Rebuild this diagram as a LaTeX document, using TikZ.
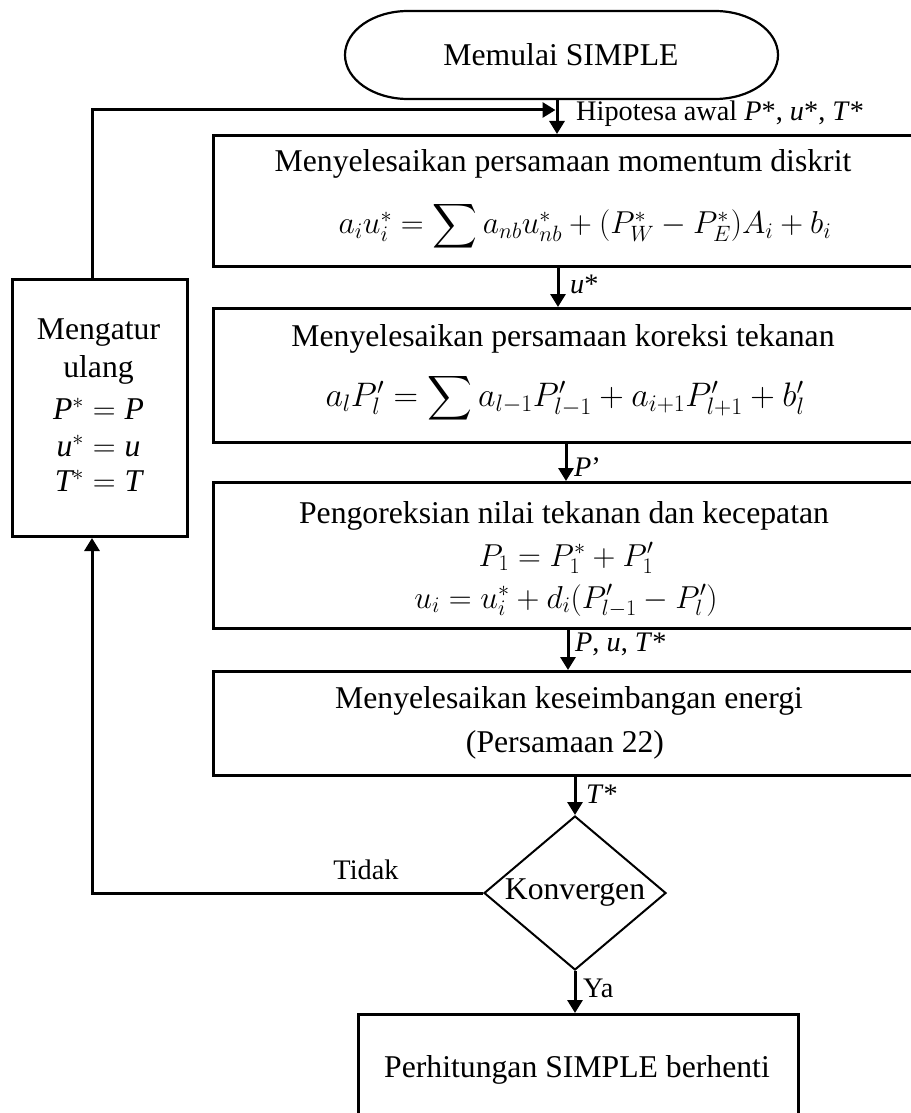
\RequirePackage{fix-cm}
\documentclass[tikz,border=0pt]{standalone}
\usepackage{exscale}
\usepackage{graphicx}
\usepackage{fontspec}
\setmainfont{Liberation Serif}
\usetikzlibrary{arrows.meta,shapes.geometric}
\newcommand{\bigsum}{\mathop{\vcenter{\hbox{\scalebox{1.25}{$\displaystyle\sum$}}}}\nolimits}
\begin{document}
\begin{tikzpicture}[x=1pt,y=1pt,
  box/.style={draw, line width=3pt, rectangle, inner sep=0pt, anchor=north west},
  txt/.style={font=\fontsize{31.7}{38}\selectfont, inner sep=0pt, align=center},
  eqn/.style={font=\fontsize{31.7}{38}\selectfont, inner sep=0pt},
  lab/.style={font=\fontsize{28.3}{34}\selectfont, inner sep=0pt, anchor=west},
  arr/.style={line width=3pt, -{Triangle[length=13pt,width=15pt]}}
]
\useasboundingbox (0,0) rectangle (910,-1113);
\fill[white] (0,0) rectangle (910,-1113);

% start terminal
\node[txt] (term) at (561,-55) {Memulai SIMPLE};
\draw[line width=2.2pt] (408,-11) -- (715,-11)
  arc[start angle=90,end angle=-90,x radius=63,y radius=44]
  -- (408,-99) arc[start angle=270,end angle=90,x radius=63,y radius=44] -- cycle;
\coordinate (termb) at (557,-99);

% main boxes
\node[box, minimum width=702pt, minimum height=131pt] (b1) at (212,-134) {};
\node[box, minimum width=702pt, minimum height=134pt] (b2) at (212,-307) {};
\node[box, minimum width=702pt, minimum height=146pt] (b3) at (212,-481) {};
\node[box, minimum width=702pt, minimum height=104pt] (b4) at (212,-670) {};
\node[box, minimum width=175pt, minimum height=257pt] (mg) at (11,-278) {};
\node[box, minimum width=440pt, minimum height=140pt] (fin) at (357,-1013) {};

% box texts
\node[txt] (t1a) at (563,-164) {Menyelesaikan persamaan momentum diskrit};
\node[eqn] (t1b) at (585,-226) {$a_i u_i^{*} = \bigsum a_{nb} u_{nb}^{*} + (P_W^{*} - P_E^{*})A_i + b_i$};
\node[txt] (t2a) at (563,-339) {Menyelesaikan persamaan koreksi tekanan};
\node[eqn, font=\fontsize{34}{40}\selectfont] (t2b) at (565,-398) {$a_l P_l' = \bigsum a_{l-1} P_{l-1}' + a_{i+1} P_{l+1}' + b_l'$};
\node[txt] (t3a) at (564,-516) {Pengoreksian nilai tekanan dan kecepatan};
\node[eqn] (t3b) at (566,-558) {$P_1 = P_1^{*} + P_1'$};
\node[eqn] (t3c) at (566,-601) {$u_i = u_i^{*} + d_i(P_{l-1}' - P_l')$};
\node[txt] (t4a) at (569,-701) {Menyelesaikan keseimbangan energi};
\node[txt] (t4b) at (565,-745) {(Persamaan 22)};
\node[txt] (mg1) at (98.5,-333) {Mengatur};
\node[txt] (mg2) at (98.5,-370) {ulang};
\node[txt] (mg3) at (98.5,-409) {$\mathit{P}^{*} = \mathit{P}$};
\node[txt] (mg4) at (98.5,-446) {$\mathit{u}^{*} = \mathit{u}$};
\node[txt] (mg5) at (98.5,-481) {$\mathit{T}^{*} = \mathit{T}$};
\node[txt] (fint) at (577,-1070) {Perhitungan SIMPLE berhenti};

% decision
\node[draw, diamond, line width=2pt, minimum width=182pt, minimum height=154pt, aspect=1.18, inner sep=0pt,
      font=\fontsize{31.7}{38}\selectfont] (dec) at (575,-893) {Konvergen};

% x positions of arrows
\coordinate (x2) at (558,0);
\coordinate (x3) at (566,0);
\coordinate (x4) at (568,0);
\coordinate (x5) at (575,0);
\coordinate (lx) at (92,0);
\coordinate (ytop) at (0,-110);
\coordinate (fbin) at (555.5,-110);

% connectors
\draw[arr] (termb) -- (termb |- b1.north);
\draw[arr] (b1.south -| x2) -- (b2.north -| x2);
\draw[arr] (b2.south -| x3) -- (b3.north -| x3);
\draw[arr] (b3.south -| x4) -- (b4.north -| x4);
\draw[arr] (b4.south -| x5) -- (dec.north);
\draw[arr] (dec.south) -- (fin.north -| dec.south);
\draw[arr] (dec.west) -- (dec.west -| lx) -- (mg.south -| lx);
\draw[arr] (mg.north -| lx) -- (lx |- ytop) -- (fbin);

% labels
\node[lab] (l0) at (576,-114) {Hipotesa awal \textit{P}*, \textit{u}*, \textit{T}*};
\node[lab] (l1) at (570,-284) {\textit{u}*};
\node[lab] (l2) at (574,-467) {\textit{P}’};
\node[lab] (l3) at (575,-644) {\textit{P}, \textit{u}, \textit{T}*};
\node[lab] (l4) at (586,-794) {\textit{T}*};
\node[lab, anchor=center] (l5) at (366,-870) {Tidak};
\node[lab] (l6) at (583,-988) {Ya};
\end{tikzpicture}
\end{document}
